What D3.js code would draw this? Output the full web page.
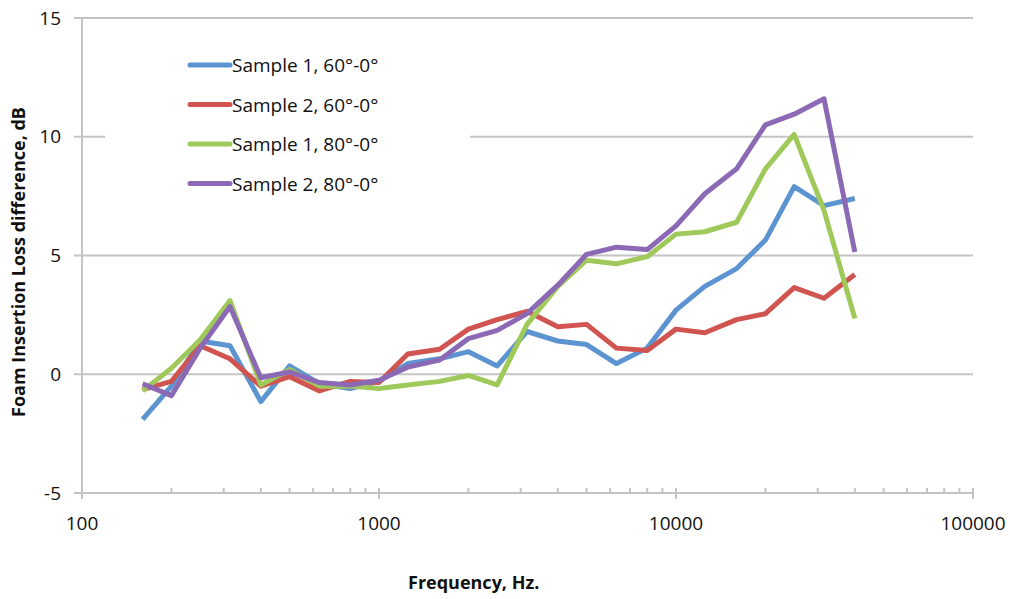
<!DOCTYPE html>
<html>
<head>
<meta charset="utf-8">
<script src="https://cdn.jsdelivr.net/npm/d3@7"></script>
<style>
	body { margin: 0; background: #fff; }
	text { font-family: 'Open Sans', sans-serif; fill: #111; }
</style>
</head>
<body>
<div id="chart"></div>
<script>
// one-third octave band centres, Hz
const frequencies = [160, 200, 250, 315, 400, 500, 630, 800, 1000, 1250, 1600, 2000,
	2500, 3150, 4000, 5000, 6300, 8000, 10000, 12500, 16000, 20000, 25000, 31500, 40000]

const seriesNames = ['Sample 1, 60°-0°', 'Sample 2, 60°-0°', 'Sample 1, 80°-0°', 'Sample 2, 80°-0°']
const seriesColors = ['#5b94d1', '#d05450', '#9fc95a', '#8b69b5']

const sample1at60 = [-1.9, -0.5, 1.4, 1.2, -1.15, 0.35, -0.4, -0.6, -0.3, 0.45, 0.65, 0.95,
	0.35, 1.8, 1.4, 1.25, 0.45, 1.1, 2.7, 3.7, 4.45, 5.65, 7.9, 7.1, 7.4]
const sample2at60 = [-0.65, -0.3, 1.2, 0.65, -0.5, -0.1, -0.7, -0.3, -0.35, 0.85, 1.05, 1.9,
	2.3, 2.65, 2.0, 2.1, 1.1, 1.0, 1.9, 1.75, 2.3, 2.55, 3.65, 3.2, 4.2]
const sample1at80 = [-0.7, 0.25, 1.45, 3.1, -0.45, 0.2, -0.5, -0.5, -0.6, -0.45, -0.3, -0.05,
	-0.45, 2.1, 3.7, 4.8, 4.65, 4.95, 5.9, 6.0, 6.4, 8.65, 10.1, 6.9, 2.35]
const sample2at80 = [-0.4, -0.9, 1.1, 2.85, -0.15, 0.1, -0.35, -0.45, -0.25, 0.3, 0.6, 1.5,
	1.85, 2.55, 3.75, 5.05, 5.35, 5.25, 6.25, 7.6, 8.65, 10.5, 10.95, 11.6, 5.15]

const seriesValues = [sample1at60, sample2at60, sample1at80, sample2at80]

const yTicks = [-5, 0, 5, 10, 15]
const xTicks = [100, 1000, 10000, 100000]

const chart = {
	draw(element) {
		const width = 1010
		const height = 599
		const margin = { top: 18, right: 37, bottom: 106, left: 82 }
		const innerW = width - margin.left - margin.right
		const innerH = height - margin.top - margin.bottom

		const x = d3.scaleLog().domain([100, 100000]).range([0, innerW])
		const y = d3.scaleLinear().domain([-5, 15]).range([innerH, 0])

		const svg = d3
			.select(`#${element}`)
			.append('svg')
			.attr('width', width)
			.attr('height', height)

		const g = svg.append('g').attr('transform', `translate(${margin.left}, ${margin.top})`)

		// horizontal gridlines with the little outside stubs
		g.append('g')
			.selectAll('line')
			.data(yTicks)
			.join('line')
			.attr('x1', -8)
			.attr('x2', innerW)
			.attr('y1', d => y(d))
			.attr('y2', d => y(d))
			.attr('stroke', '#c4c4c4')
			.attr('stroke-width', 2)

		// y axis line
		g.append('line')
			.attr('x1', 0)
			.attr('x2', 0)
			.attr('y1', 0)
			.attr('y2', innerH)
			.attr('stroke', '#c4c4c4')
			.attr('stroke-width', 2)

		// x axis: minor ticks inside, major ticks across
		const minor = []
		for (let dec = 100; dec < 100000; dec *= 10) {
			for (let k = 2; k <= 9; k++) minor.push(dec * k)
		}
		const xAxis = g.append('g').attr('transform', `translate(0, ${innerH})`)
		xAxis.append('line')
			.attr('x1', 0)
			.attr('x2', innerW)
			.attr('stroke', '#c4c4c4')
			.attr('stroke-width', 2)
		xAxis.selectAll('.minor')
			.data(minor)
			.join('line')
			.attr('class', 'minor')
			.attr('x1', d => x(d))
			.attr('x2', d => x(d))
			.attr('y1', -5)
			.attr('y2', 0)
			.attr('stroke', '#c4c4c4')
			.attr('stroke-width', 2)
		xAxis.selectAll('.major')
			.data(xTicks)
			.join('line')
			.attr('class', 'major')
			.attr('x1', d => x(d))
			.attr('x2', d => x(d))
			.attr('y1', -5)
			.attr('y2', 6)
			.attr('stroke', '#c4c4c4')
			.attr('stroke-width', 2)
		xAxis.selectAll('text')
			.data(xTicks)
			.join('text')
			.attr('x', d => x(d))
			.attr('y', 37)
			.attr('text-anchor', 'middle')
			.style('font-size', '19px')
			.text(d => d)

		// y tick labels
		g.append('g')
			.selectAll('text')
			.data(yTicks)
			.join('text')
			.attr('x', -21)
			.attr('y', d => y(d))
			.attr('dy', '0.35em')
			.attr('text-anchor', 'end')
			.style('font-size', '19px')
			.text(d => d)

		// legend sits on a white box that hides the 10 gridline
		const legend = g.append('g').attr('transform', 'translate(23, 22)')
		legend.append('rect')
			.attr('width', 365)
			.attr('height', 180)
			.attr('fill', '#fff')
		const item = legend
			.selectAll('.item')
			.data(seriesNames)
			.join('g')
			.attr('class', 'item')
			.attr('transform', (d, i) => `translate(85, ${25 + i * 39.5})`)
		item.append('line')
			.attr('x1', 0)
			.attr('x2', 40)
			.attr('stroke', (d, i) => seriesColors[i])
			.attr('stroke-width', 5)
			.attr('stroke-linecap', 'round')
		item.append('text')
			.attr('x', 42)
			.attr('dy', '0.38em')
			.style('font-size', '19px')
			.text(d => d)

		const line = d3
			.line()
			.x((d, i) => x(frequencies[i]))
			.y(d => y(d))

		g.append('g')
			.selectAll('path')
			.data(seriesValues)
			.join('path')
			.attr('d', line)
			.attr('fill', 'none')
			.attr('stroke', (d, i) => seriesColors[i])
			.attr('stroke-width', 5)
			.attr('stroke-linejoin', 'round')

		// axis titles
		svg.append('text')
			.attr('transform', 'translate(19, 262) rotate(-90)')
			.attr('text-anchor', 'middle')
			.attr('dy', '0.35em')
			.style('font-size', '18px')
			.style('font-weight', 'bold')
			.text('Foam Insertion Loss difference, dB')

		svg.append('text')
			.attr('x', 408)
			.attr('y', 583)
			.attr('dy', '0.35em')
			.style('font-size', '18px')
			.style('font-weight', 'bold')
			.text('Frequency, Hz.')
	}
}

chart.draw('chart')
</script>
</body>
</html>
